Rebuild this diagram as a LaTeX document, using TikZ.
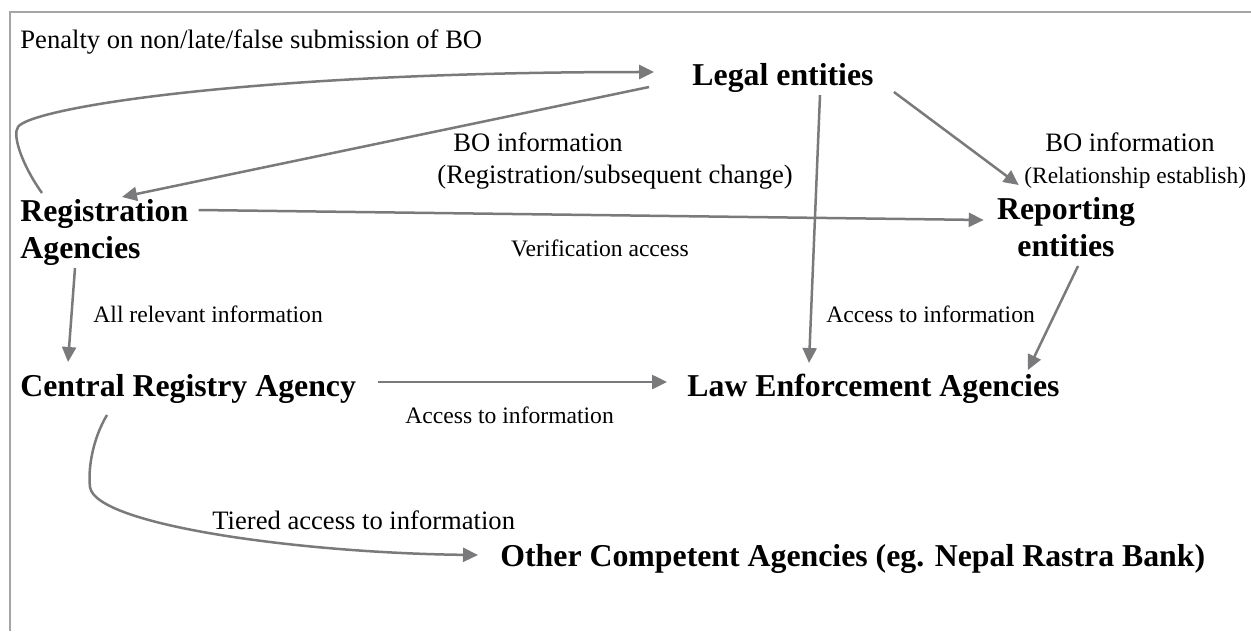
\documentclass[tikz,border=0pt]{standalone}
\usepackage{fontspec}
\setmainfont{Liberation Serif}
\usetikzlibrary{arrows.meta}

\definecolor{flowgray}{RGB}{122,122,124}
\definecolor{framegray}{RGB}{165,165,165}

\tikzset{
	agency/.style={font=\fontsize{15.9}{18.5}\selectfont\bfseries, inner sep=0pt, align=left},
	note/.style={font=\fontsize{11.8}{15}\selectfont, inner sep=0pt, align=left},
	bignote/.style={note, font=\fontsize{13.3}{16}\selectfont},
	flow/.style={draw=flowgray, line width=1.25pt, -{Triangle[length=7.5pt,width=7pt]}}
}

\begin{document}
\begin{tikzpicture}[x=0.5pt,y=-0.5pt]
		\useasboundingbox (0,0) rectangle (1251,631);
		\fill[white] (0,0) rectangle (1251,631);
		\draw[framegray, line width=0.8pt] (10,631) -- (10,12) -- (1251,12);

		\node[bignote, anchor=west] (penalty) at (20,42) {Penalty on non/late/false submission of BO};
		\node[agency] (legal) at (783,78) {Legal entities};
		\node[agency, anchor=west] (reg) at (20,232) {Registration\\Agencies};
		\node[agency, align=center] (rep) at (1066,227) {Reporting\\entities};
		\node[agency, anchor=west] (cra) at (20,389) {Central Registry Agency};
		\node[agency, anchor=west] (lea) at (687,389) {Law Enforcement Agencies};
		\node[agency, anchor=west] (oca) at (500,559) {Other Competent Agencies (eg. Nepal Rastra Bank)};

		\node[bignote, anchor=west] (boreg) at (437,161) {\hspace*{8pt}BO information\\(Registration/subsequent change)};
		\node[bignote, anchor=west] (borel) at (1024,161) {\hspace*{10.5pt}BO information\\{\fontsize{11.7}{16}\selectfont(Relationship establish)}};
		\node[note] (verif) at (600,248) {Verification access};
		\node[note, anchor=west] (allrel) at (93,314) {All relevant information};
		\node[note, anchor=west] (accrep) at (826,314) {Access to information};
		\node[note, anchor=west] (acccra) at (405,415) {Access to information};
		\node[bignote, anchor=west] (tiered) at (212,520) {Tiered access to information};

		\draw[flow] ([shift={(22,-39)}]reg.west) .. controls +(-20,-28) and +(-6,8) .. ([shift={(-2,-105)}]reg.west)
			.. controls +(12,-19) and +(-405,0) .. ([shift={(-38,-6)}]legal.west);
		\draw[flow] ([shift={(-43,9)}]legal.west) -- ([shift={(102,-35)}]reg.west);
		\draw[flow] ([shift={(10,-22)}]reg.east) -- ([shift={(-13,-7)}]rep.west);
		\draw[flow] ([shift={(20,14)}]legal.east) -- ([shift={(22,-42)}]rep.west);
		\draw[flow] ([shift={(37,17)}]legal.center) -- ([shift={(122,-26)}]lea.west);
		\draw[flow] ([shift={(12,39)}]rep.center) -- ([shift={(-32,-19)}]lea.east);
		\draw[flow] ([shift={(55,36)}]reg.west) -- ([shift={(48,-27)}]cra.west);
		\draw[flow] ([shift={(22,-7)}]cra.east) -- ([shift={(-20,-7)}]lea.west);
		\draw[flow] ([shift={(87,26)}]cra.west) .. controls +(-15,25) and +(-2,-17) .. ([shift={(70,98)}]cra.west)
			.. controls +(5,38) and +(-178,-2) .. ([shift={(-22,-4)}]oca.west);
\end{tikzpicture}
\end{document}
